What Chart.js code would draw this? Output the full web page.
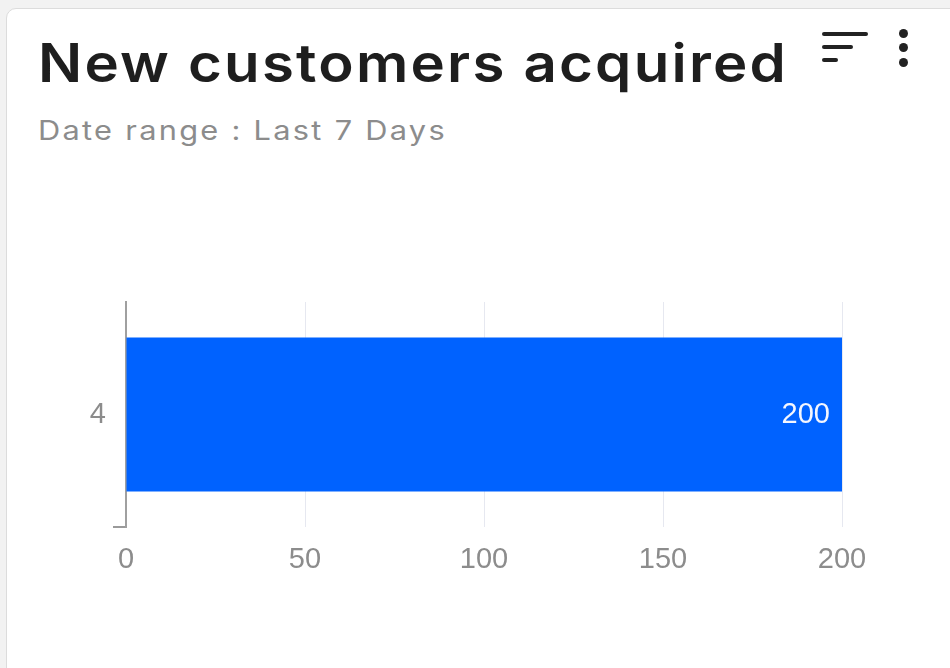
<!DOCTYPE html>
<html><head><meta charset="utf-8">
<script src="https://cdn.jsdelivr.net/npm/chart.js@4"></script>
<style>
html,body{margin:0;padding:0;width:950px;height:668px;overflow:hidden;background:#f2f2f2;}
#card{position:absolute;left:6px;top:8px;width:1000px;height:700px;background:#fff;border:1px solid #dcdcdc;border-radius:10px;}
#title{position:absolute;left:38px;top:31px;font-family:Inter,"Open Sans",sans-serif;font-weight:600;font-size:53px;color:#1e1e1e;white-space:nowrap;letter-spacing:2px;transform-origin:0 0;transform:scaleX(1.098);}
#sub{position:absolute;left:38px;top:114px;font-family:Inter,"Open Sans",sans-serif;font-size:27px;color:#8c8c8c;white-space:nowrap;letter-spacing:2px;transform-origin:0 0;transform:scaleX(1.14);}
.ln{position:absolute;height:4px;background:#222;border-radius:2px;left:822px;}
.dot{position:absolute;width:9px;height:9px;border-radius:50%;background:#222;left:899px;}
#wrap{position:absolute;left:0;top:0;width:950px;height:668px;}
</style></head>
<body>
<div id="card"></div>
<div id="title">New customers acquired</div>
<div id="sub">Date range : Last 7 Days</div>
<div class="ln" style="top:32px;width:46px"></div>
<div class="ln" style="top:45px;width:31px"></div>
<div class="ln" style="top:58px;width:16px"></div>
<div class="dot" style="top:29px"></div>
<div class="dot" style="top:43px"></div>
<div class="dot" style="top:58px"></div>
<div id="wrap"><canvas id="c"></canvas></div>
<script>
const categories = ["4"];
const values = [200];
const xTicks = [0, 50, 100, 150, 200];

const valueLabels = {
  id: 'valueLabels',
  afterDatasetsDraw(chart) {
    const ctx = chart.ctx;
    const meta = chart.getDatasetMeta(0);
    ctx.save();
    ctx.font = '29px "Liberation Sans", Arial, sans-serif';
    ctx.fillStyle = '#f4f6ff';
    ctx.textAlign = 'right';
    ctx.textBaseline = 'middle';
    meta.data.forEach((bar, i) => {
      ctx.fillText(String(values[i]), bar.x - 12, bar.y);
    });
    ctx.restore();
  }
};

new Chart(document.getElementById('c'), {
  type: 'bar',
  data: {
    labels: categories,
    datasets: [{
      data: values,
      backgroundColor: 'rgb(0,98,255)',
      borderWidth: 0,
      categoryPercentage: 1,
      barPercentage: 0.685
    }]
  },
  options: {
    indexAxis: 'y',
    responsive: true,
    maintainAspectRatio: false,
    animation: false,
    layout: { padding: { left: 0, top: 302, right: 108, bottom: 0 } },
    plugins: { legend: { display: false }, tooltip: { enabled: false } },
    scales: {
      x: {
        min: 0, max: 200,
        afterBuildTicks: (s) => { s.ticks = xTicks.map(v => ({ value: v })); },
        afterFit: (s) => { s.height = 141; },
        grid: { color: '#e6e8f0', lineWidth: 1, drawTicks: false },
        border: { display: false },
        ticks: { padding: 16, color: '#8c8c8c', font: { size: 29, family: '"Liberation Sans", Arial, sans-serif' } }
      },
      y: {
        afterFit: (s) => { s.width = 126; },
        grid: {
          drawOnChartArea: false,
          tickLength: 13,
          color: (c) => (c.type === 'tick' && c.index === 0) ? 'rgba(0,0,0,0)' : '#9a9a9a',
          lineWidth: 2
        },
        border: { display: true, color: '#a0a0a0', width: 2 },
        ticks: { padding: 7, color: '#8c8c8c', font: { size: 29, family: '"Liberation Sans", Arial, sans-serif' } }
      }
    }
  },
  plugins: [valueLabels]
});
</script>
</body></html>
